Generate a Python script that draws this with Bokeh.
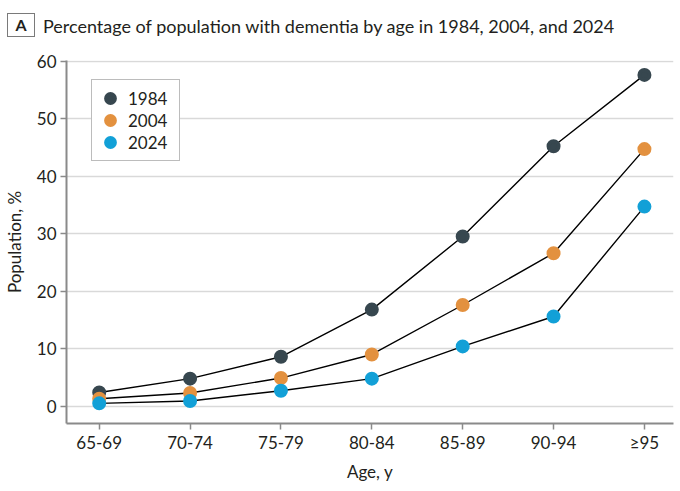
from bokeh.plotting import figure
from bokeh.models import Range1d, Legend, LegendItem, FixedTicker, Div
from bokeh.layouts import column
from bokeh.embed import file_html
from bokeh.resources import INLINE

# ---- data ----
age_groups = ["65-69", "70-74", "75-79", "80-84", "85-89", "90-94", "≥95"]
years = ["1984", "2004", "2024"]
pct_1984 = [2.4, 4.8, 8.6, 16.8, 29.5, 45.2, 57.6]
pct_2004 = [1.3, 2.3, 4.9, 9.0, 17.6, 26.6, 44.7]
pct_2024 = [0.5, 0.9, 2.7, 4.8, 10.4, 15.6, 34.7]
y_ticks = [0, 10, 20, 30, 40, 50, 60]
title_text = "Percentage of population with dementia by age in 1984, 2004, and 2024"
panel_letter = "A"

colors = ["#37474f", "#e3913f", "#12a0d7"]
FONT = "Lato"
TXT = "#231f20"
HEAD_H = 44

xs = list(range(len(age_groups)))

# ---- heading (panel letter box + title) ----
head_html = (
    f'<div style="position:relative;width:680px;height:{HEAD_H}px;'
    f'font-family:Lato;color:{TXT};background:white;">'
    f'<div style="position:absolute;box-sizing:border-box;left:7px;top:13px;'
    f'width:28px;height:24px;border:1px solid #7a7a7a;font-weight:bold;'
    f'font-size:16px;line-height:22px;text-align:center;">{panel_letter}</div>'
    f'<div style="position:absolute;left:43px;top:14px;font-size:18px;line-height:24px;'
    f'white-space:nowrap;">{title_text}</div>'
    f'</div>'
)
head = Div(text=head_html, width=680, height=HEAD_H, margin=0)

# ---- main chart ----
p = figure(width=680, height=491 - HEAD_H, output_backend="svg", toolbar_location=None,
           x_range=Range1d(-0.36, 6.32), y_range=Range1d(-3.0, 60.1),
           min_border_left=65, min_border_right=7, min_border_top=60 - HEAD_H,
           min_border_bottom=68)
p.outline_line_color = None
p.background_fill_color = "white"
p.border_fill_color = "white"

p.xgrid.grid_line_color = None
p.ygrid.grid_line_color = "#d9d9d9"
p.ygrid.grid_line_width = 1.5
p.ygrid.ticker = FixedTicker(ticks=y_ticks)

p.yaxis.ticker = FixedTicker(ticks=y_ticks)
p.xaxis.ticker = FixedTicker(ticks=xs)
p.xaxis.major_label_overrides = {i: a for i, a in enumerate(age_groups)}
for ax in (p.xaxis, p.yaxis):
    ax.axis_line_color = "#8a8a8a"
    ax.axis_line_width = 2
    ax.major_tick_line_color = "#8a8a8a"
    ax.major_tick_line_width = 1.5
    ax.major_tick_out = 6
    ax.major_tick_in = 0
    ax.minor_tick_line_color = None
    ax.major_label_text_font = FONT
    ax.major_label_text_font_size = "17px"
    ax.major_label_text_color = TXT
    ax.axis_label_text_font = FONT
    ax.axis_label_text_font_size = "17px"
    ax.axis_label_text_font_style = "normal"
    ax.axis_label_text_color = TXT
p.yaxis.major_label_standoff = 4
p.xaxis.major_label_standoff = 2
p.xaxis.axis_label = "Age, y"
p.yaxis.axis_label = "Population, %"
p.xaxis.axis_label_standoff = 5
p.yaxis.axis_label_standoff = 9

items = []
for vals in [pct_1984, pct_2004, pct_2024]:
    p.line(xs, vals, line_color="black", line_width=1.4)
for vals, yr, c in zip([pct_1984, pct_2004, pct_2024], years, colors):
    r = p.scatter(xs, vals, size=10, fill_color=c, line_color=c, line_width=4)
    items.append(LegendItem(label=yr, renderers=[r]))

legend = Legend(items=items, location=(25, 262))
legend.label_text_font = FONT
legend.label_text_font_size = "17px"
legend.label_text_color = TXT
legend.border_line_color = "#7a7a7a"
legend.border_line_width = 1
legend.padding = 7
legend.spacing = 0
legend.label_height = 20
legend.label_width = 44
legend.glyph_height = 22
legend.glyph_width = 22
legend.label_standoff = 7
legend.margin = 0
legend.background_fill_alpha = 1
p.add_layout(legend, "center")

layout = column(head, p, spacing=0)
open("out.html", "w").write(file_html(layout, INLINE))
